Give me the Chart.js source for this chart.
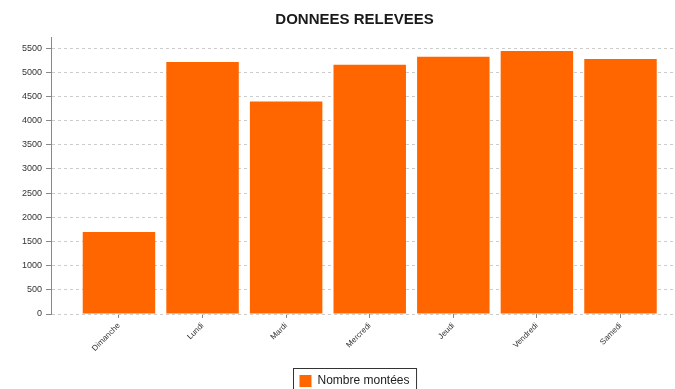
<!DOCTYPE html>
<html>
<head>
<meta charset="utf-8">
<script src="https://cdn.jsdelivr.net/npm/chart.js@4"></script>
<style>
  html, body { margin: 0; padding: 0; background: #fff; }
  #wrap { width: 675px; height: 389px; }
</style>
</head>
<body>
<div id="wrap"><canvas id="chart"></canvas></div>
<script>
const jours = ["Dimanche", "Lundi", "Mardi", "Mercredi", "Jeudi", "Vendredi", "Samedi"];
const montees = [1695, 5215, 4395, 5155, 5320, 5440, 5275];
const yTicks = [0, 500, 1000, 1500, 2000, 2500, 3000, 3500, 4000, 4500, 5000, 5500];

Chart.defaults.font.family = "'Liberation Sans', Arial, sans-serif";

// titre et legende un peu decales vers la droite, cadre autour de la legende
const legendBorder = {
  id: "legendBorder",
  afterLayout(chart) {
    chart.titleBlock.left += 14;
    chart.legend.left += 14;
  },
  afterDraw(chart) {
    const boxes = chart.legend && chart.legend.legendHitBoxes;
    if (!boxes || !boxes.length) return;
    const b = boxes[0];
    const ctx = chart.ctx;
    ctx.save();
    ctx.strokeStyle = "#333";
    ctx.lineWidth = 1;
    ctx.strokeRect(Math.round(b.left) - 5.5, Math.round(b.top) - 6.5, b.width + 13, b.height + 20);
    ctx.restore();
  }
};

const ctx = document.getElementById("chart").getContext("2d");
const chart = new Chart(ctx, {
  type: "bar",
  data: {
    datasets: [
      {
        label: "Nombre montées",
        data: montees.map((v, i) => ({ x: i, y: v })),
        backgroundColor: "#ff6600",
        borderWidth: 0,
        barPercentage: 1,
        categoryPercentage: 0.867,
      },
    ],
  },
  plugins: [legendBorder],
  options: {
    responsive: true,
    maintainAspectRatio: false,
    animation: false,
    layout: { padding: { left: 21, right: 1, top: 0, bottom: -8 } },
    plugins: {
      title: {
        display: true,
        text: "DONNEES RELEVEES",
        color: "#1a1a1a",
        font: { size: 15, weight: "bold" },
        padding: { top: 11, bottom: 8 },
      },
      legend: {
        position: "bottom",
        labels: {
          boxWidth: 12,
          boxHeight: 12,
          color: "#222",
          font: { size: 12 },
          padding: 10,
        },
      },
      tooltip: { enabled: false },
    },
    scales: {
      x: {
        type: "linear",
        offset: false,
        min: -0.813,
        max: 6.64,
        afterBuildTicks: (scale) => {
          scale.ticks = jours.map((_, i) => ({ value: i }));
        },
        afterFit: (scale) => {
          scale.height = 51;
        },
        ticks: {
          callback: (v) => jours[v],
          minRotation: 45,
          maxRotation: 45,
          color: "#333",
          font: { size: 8 },
          padding: 3,
        },
        grid: {
          offset: false,
          drawOnChartArea: false,
          tickLength: 4,
          tickColor: "#888",
        },
        border: { display: false },
      },
      y: {
        min: 0,
        max: 5730,
        afterBuildTicks: (scale) => {
          scale.ticks = yTicks.map((v) => ({ value: v }));
        },
        afterFit: (scale) => {
          scale.width = 30;
        },
        ticks: {
          callback: (v) => String(v),
          color: "#333",
          font: { size: 9 },
          padding: 4,
        },
        grid: {
          color: "#cccccc",
          tickColor: "#888",
          tickLength: 5,
          tickBorderDash: [],
        },
        border: { display: true, color: "#888", dash: [3, 3] },
      },
    },
  },
});
</script>
</body>
</html>
